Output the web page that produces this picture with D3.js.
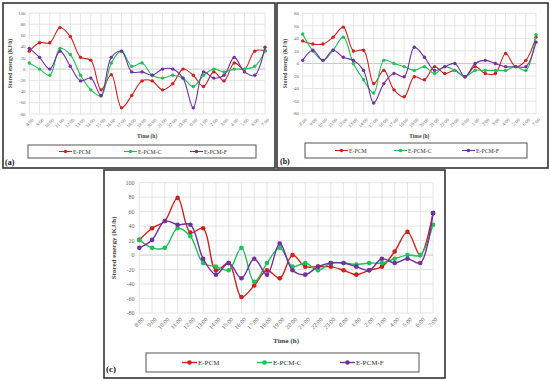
<!DOCTYPE html>
<html>
<head>
<meta charset="utf-8">
<script src="https://cdn.jsdelivr.net/npm/d3@7"></script>
<style>
  body { margin: 0; background: #fff; }
  text { font-family: "Liberation Serif", "DejaVu Serif", serif; }
</style>
</head>
<body>
<div id="chart"></div>
<script>
// hours on the x axis
const hours = ["8:00","9:00","10:00","11:00","12:00","13:00","14:00","15:00","16:00","17:00","18:00","19:00",
  "20:00","21:00","22:00","23:00","0:00","1:00","2:00","3:00","4:00","5:00","6:00","7:00"];
const seriesNames = ["E-PCM", "E-PCM-C", "E-PCM-F"];

// panel (a)
const aPCM  = [32,47,47,74,58,21,16,-37,-10,-69,-47,-21,-21,-37,-26,0,-11,-31,-5,-21,11,0,32,33];
const aPCMC = [11,0,-11,37,26,-11,-37,-48,11,32,5,11,-11,-16,-11,-16,-31,-11,0,-5,0,0,5,32];
const aPCMF = [37,21,0,32,5,-21,-16,-47,21,32,-5,-5,-11,0,0,-16,-69,-5,-16,-11,21,-5,-11,39];
const aTicks = [-80,-60,-40,-20,0,20,40,60,80,100];

// panel (b)
const bPCM  = [36,31,31,42,58,20,21,-32,-11,-42,-53,-21,-26,-5,-16,-11,-21,-5,-16,-16,16,-5,5,42];
const bPCMC = [47,20,5,21,42,0,-26,-47,5,0,-5,-11,-5,-16,-5,-11,-21,-11,-11,-11,-11,-5,-11,46];
const bPCMF = [5,21,5,21,10,5,-11,-63,-32,-16,-21,26,10,-11,-5,0,-21,0,5,0,-5,-5,-5,34];
const bTicks = [-80,-60,-40,-20,0,20,40,60,80];

// panel (c)
const cPCM  = [21,37,47,79,31,37,-21,-11,-58,-42,-21,-32,0,-16,-16,-16,-21,-27,-21,-16,5,32,0,58];
const cPCMC = [21,10,10,37,26,-11,-16,-21,10,-37,-11,10,-16,-11,-21,-11,-11,-13,-11,-11,-5,0,0,42];
const cPCMF = [10,21,47,42,42,-5,-27,-11,-32,-5,-27,16,-21,-27,-16,-11,-11,-16,-21,-5,-11,-5,-11,58];
const cTicks = [-80,-60,-40,-20,0,20,40,60,80,100];

const colors = ["#d01f1f", "#1fbf58", "#7030a0"];

const svg = d3.select("#chart").append("svg")
  .attr("width", 550).attr("height", 381);

function drawPanel(p) {
  const g = svg.append("g");
  // frame
  g.append("rect")
    .attr("x", p.frame[0]).attr("y", p.frame[1])
    .attr("width", p.frame[2] - p.frame[0]).attr("height", p.frame[3] - p.frame[1])
    .attr("fill", "#fff").attr("stroke", "#333").attr("stroke-width", 1.6);

  const x = d3.scalePoint().domain(hours).range([p.x0, p.x1]);
  const y = d3.scaleLinear().domain([p.ticks[0], p.ticks[p.ticks.length - 1]]).range([p.yb, p.yt]);

  // grid
  g.selectAll(".hg").data(p.ticks).join("line")
    .attr("x1", p.x0).attr("x2", p.x1)
    .attr("y1", d => y(d)).attr("y2", d => y(d))
    .attr("stroke", d => d === 0 ? "#bdbdbd" : "#dedede").attr("stroke-width", 0.8);
  g.selectAll(".vg").data(hours).join("line")
    .attr("x1", d => x(d)).attr("x2", d => x(d))
    .attr("y1", p.yt).attr("y2", p.yb)
    .attr("stroke", "#dedede").attr("stroke-width", 0.8);

  // y tick labels
  g.selectAll(".yl").data(p.ticks).join("text")
    .attr("x", p.x0 - p.tickFs * 0.8).attr("y", d => y(d) + p.tickFs * 0.35)
    .attr("text-anchor", "end").attr("font-size", p.tickFs).attr("fill", "#666")
    .text(d => d);

  // x tick labels
  g.selectAll(".xl").data(hours).join("text")
    .attr("transform", d => `translate(${x(d) + 2},${p.yb + 4}) rotate(-45)`)
    .attr("text-anchor", "end").attr("dy", "0.7em").attr("font-size", p.tickFs).attr("fill", "#666")
    .text(d => d);

  // axis titles
  g.append("text")
    .attr("transform", `translate(${p.ytx},${(p.yt + p.yb) / 2}) rotate(-90)`)
    .attr("text-anchor", "middle").attr("font-size", p.titleFs).attr("font-weight", "bold").attr("fill", "#444")
    .text("Stored energy (KJ/h)");
  g.append("text")
    .attr("x", (p.x0 + p.x1) / 2).attr("y", p.xty)
    .attr("text-anchor", "middle").attr("font-size", p.titleFs).attr("font-weight", "bold").attr("fill", "#444")
    .text("Time (h)");

  // series
  const line = d3.line().x((d, i) => x(hours[i])).y(d => y(d)).curve(d3.curveCatmullRom.alpha(0.5));
  p.series.forEach((vals, k) => {
    g.append("path").datum(vals)
      .attr("d", line).attr("fill", "none")
      .attr("stroke", colors[k]).attr("stroke-width", p.lw);
    g.selectAll(".m" + k).data(vals).join("circle")
      .attr("cx", (d, i) => x(hours[i])).attr("cy", d => y(d))
      .attr("r", p.r).attr("fill", colors[k]);
  });

  // legend
  const lb = p.legend;
  g.append("rect")
    .attr("x", lb.box[0]).attr("y", lb.box[1])
    .attr("width", lb.box[2] - lb.box[0]).attr("height", lb.box[3] - lb.box[1])
    .attr("fill", "#fff").attr("stroke", "#555").attr("stroke-width", 1);
  const cy = (lb.box[1] + lb.box[3]) / 2;
  seriesNames.forEach((name, k) => {
    const sx = lb.xs[k];
    g.append("line").attr("x1", sx).attr("x2", sx + lb.len).attr("y1", cy).attr("y2", cy)
      .attr("stroke", colors[k]).attr("stroke-width", p.lw);
    g.append("circle").attr("cx", sx + lb.len / 2).attr("cy", cy).attr("r", p.r).attr("fill", colors[k]);
    g.append("text").attr("x", sx + lb.len + 1).attr("y", cy + lb.fs * 0.35)
      .attr("font-size", lb.fs).attr("fill", "#333").text(name);
  });

  // panel label
  g.append("text").attr("x", p.label[0]).attr("y", p.label[1])
    .attr("font-size", p.labelFs).attr("font-weight", "bold").attr("fill", "#111")
    .text(p.name);
}

drawPanel({
  name: "(a)", frame: [3, 3, 275, 168],
  x0: 29.3, x1: 265, yt: 13, yb: 114, ticks: aTicks,
  series: [aPCM, aPCMC, aPCMF],
  tickFs: 4.8, titleFs: 5.5, lw: 1.1, r: 1.7,
  ytx: 12, xty: 138,
  legend: { box: [28, 145, 256, 158], xs: [59, 124, 190], len: 13, fs: 5.8 },
  label: [5, 165], labelFs: 8
});

drawPanel({
  name: "(b)", frame: [277, 3, 548, 168],
  x0: 302.7, x1: 536, yt: 13.3, yb: 113.7, ticks: bTicks,
  series: [bPCM, bPCMC, bPCMF],
  tickFs: 4.8, titleFs: 5.5, lw: 1.1, r: 1.7,
  ytx: 287, xty: 138,
  legend: { box: [305, 143, 527, 158], xs: [335, 394, 462], len: 13, fs: 5.8 },
  label: [280, 164], labelFs: 8
});

drawPanel({
  name: "(c)", frame: [104, 170, 445, 378],
  x0: 139.3, x1: 433, yt: 182.7, yb: 313, ticks: cTicks,
  series: [cPCM, cPCMC, cPCMF],
  tickFs: 6, titleFs: 7, lw: 1.4, r: 2.3,
  ytx: 116, xty: 343,
  legend: { box: [146, 353, 419, 372], xs: [182, 257, 340], len: 15, fs: 7 },
  label: [106, 372], labelFs: 9
});
</script>
</body>
</html>
